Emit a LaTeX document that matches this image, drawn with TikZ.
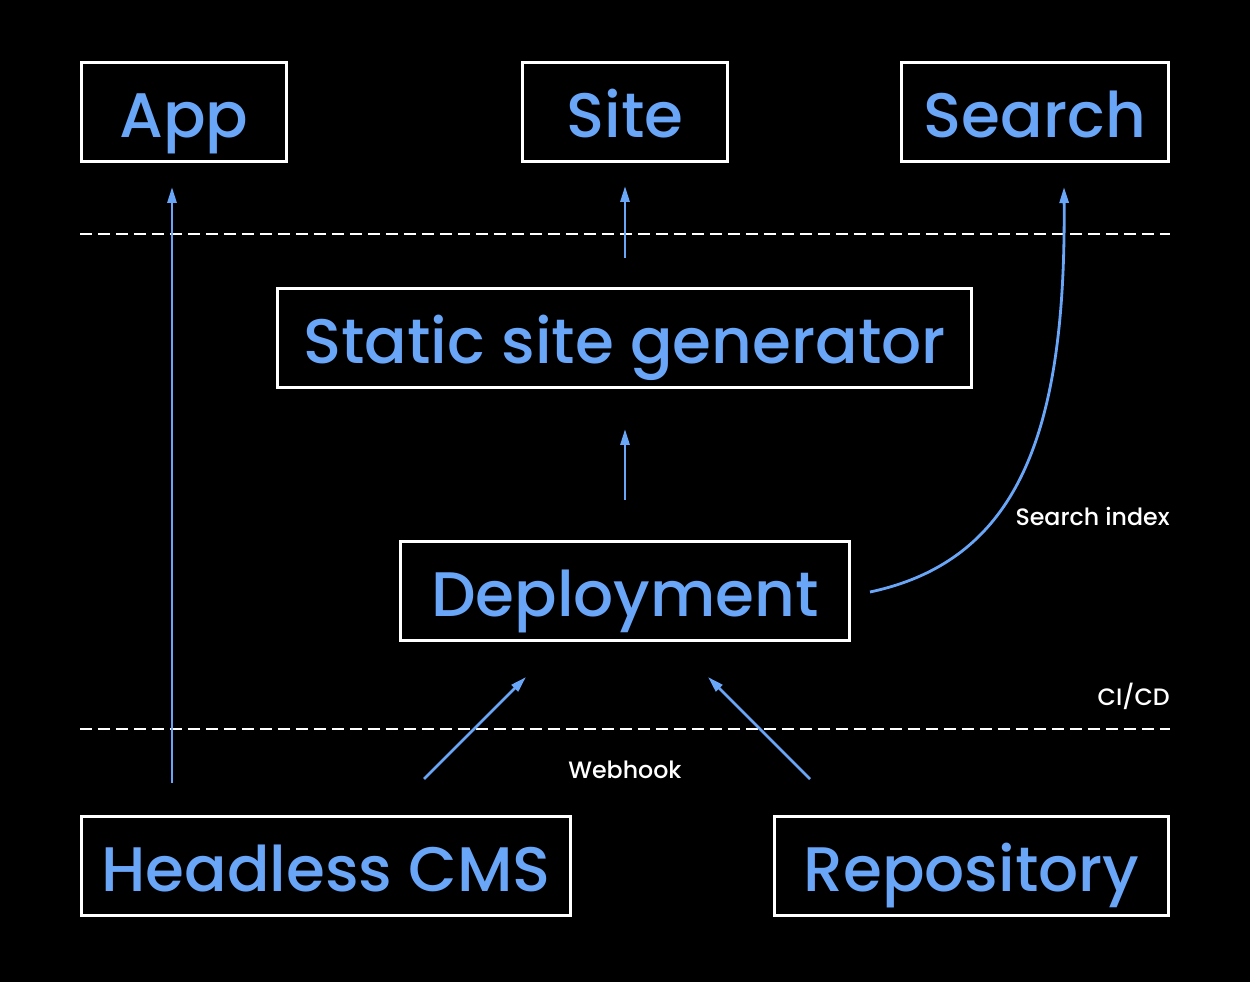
\documentclass[tikz,border=0pt]{standalone}
\usepackage{fontspec}
\setmainfont{Poppins}[UprightFont={* Medium}]
\usetikzlibrary{arrows.meta}
\definecolor{cblue}{RGB}{106,166,248}
\begin{document}
\begin{tikzpicture}[x=0.02cm,y=-0.02cm,
  box/.style={draw=white, line width=1.8pt, text=cblue, inner sep=0pt,
    font=\fontsize{35.8}{40}\selectfont, text height=29pt, text depth=0pt, minimum height=1.98cm},
  lbl/.style={text=white, inner sep=0pt, font=\fontsize{13.5}{15}\selectfont},
  sep/.style={draw=white, line width=1.6pt, dash pattern=on 0.24cm off 0.12cm},
  arr/.style={draw=cblue, line width=1.6pt, -{Triangle[length=0.32cm,width=0.18cm]}}]
\fill[black] (0,0) rectangle (1250,982);
\useasboundingbox (0,0) rectangle (1250,982);
% boxes
\node[box, minimum width=4.1cm] (app) at (184,112) {App};
\node[box, minimum width=4.1cm] (site) at (625,112) {Site};
\node[box, minimum width=5.34cm] (search) at (1035,112) {Search};
\node[box, minimum width=13.88cm] (ssg) at (624.5,338) {Static site generator};
\node[box, minimum width=8.98cm] (dep) at (625,591) {Deployment};
\node[box, minimum width=9.78cm] (cms) at (326,866) {Headless CMS};
\node[box, minimum width=7.88cm] (repo) at (971.5,866) {Repository};
% separators
\coordinate (s1a) at (80,234); \coordinate (s1b) at (1170,234);
\coordinate (s2a) at (80,729); \coordinate (s2b) at (1170,729);
\draw[sep] (s1a) -- (s1b);
\draw[sep] (s2a) -- (s2b);
% arrow end points
\coordinate (a1s) at (172,783); \coordinate (a1e) at (172,187);
\coordinate (a2s) at (625,258); \coordinate (a2e) at (625,186);
\coordinate (a3s) at (625,500); \coordinate (a3e) at (625,429);
\coordinate (a4s) at (870,592); \coordinate (a4e) at (1064,187);
\coordinate (a5s) at (424,779); \coordinate (a5e) at (526,677);
\coordinate (a6s) at (810,779); \coordinate (a6e) at (708,677);
\draw[arr] (a1s) -- (a1e);
\draw[arr] (a2s) -- (a2e);
\draw[arr] (a3s) -- (a3e);
\draw[arr] (a4s) .. controls (1020,560) and (1066,430) .. (a4e);
\draw[arr] (a5s) -- (a5e);
\draw[arr] (a6s) -- (a6e);
% labels
\node[lbl, anchor=east] (lsi) at (1170,516) {Search index};
\node[lbl, anchor=east] (lci) at (1170,696) {CI/CD};
\node[lbl] (lwh) at (625,770) {Webhook};
\end{tikzpicture}
\end{document}
